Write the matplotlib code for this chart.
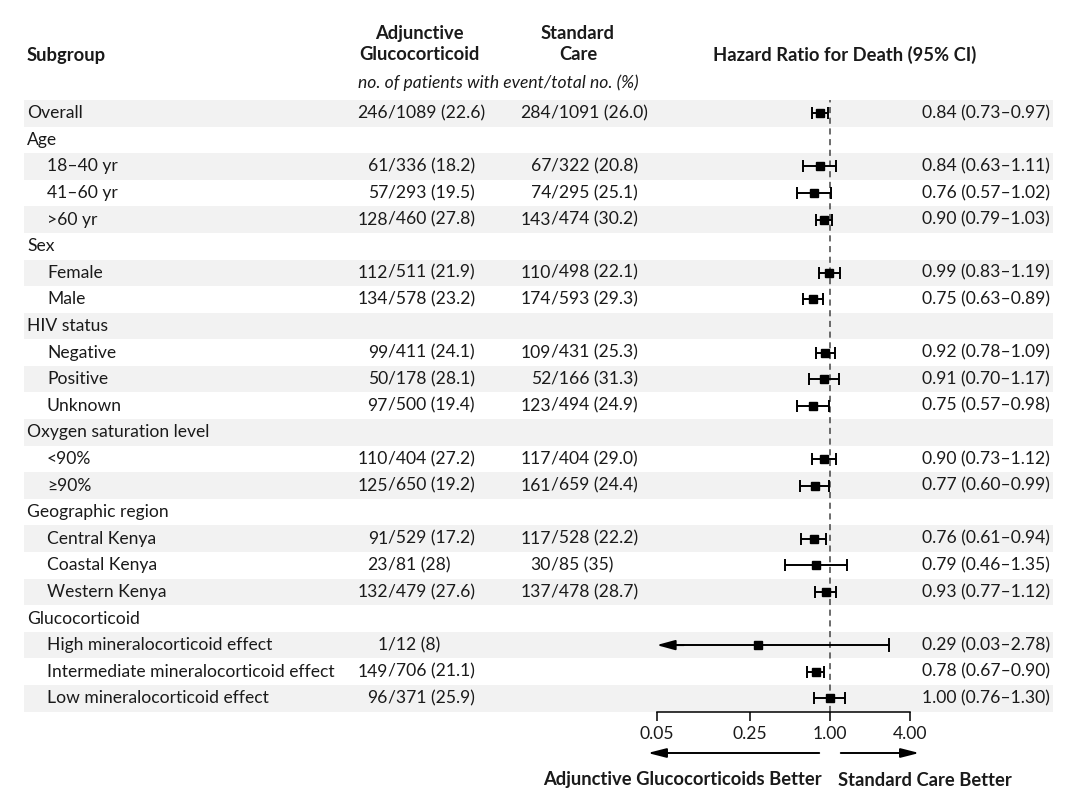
import matplotlib
matplotlib.use("Agg")
import matplotlib.pyplot as plt

plt.rcParams['font.family'] = ['Lato', 'DejaVu Sans']

# rows of the table
labels = ["Overall", "Age", "18\u201340 yr", "41\u201360 yr", ">60 yr", "Sex", "Female", "Male",
          "HIV status", "Negative", "Positive", "Unknown", "Oxygen saturation level", "<90%",
          "\u226590%", "Geographic region", "Central Kenya", "Coastal Kenya", "Western Kenya",
          "Glucocorticoid", "High mineralocorticoid effect",
          "Intermediate mineralocorticoid effect", "Low mineralocorticoid effect"]
indent = [0, 0, 1, 1, 1, 0, 1, 1, 0, 1, 1, 1, 0, 1, 1, 0, 1, 1, 1, 0, 1, 1, 1]
adj = ["246/1089 (22.6)", "", "61/336 (18.2)", "57/293 (19.5)", "128/460 (27.8)", "",
       "112/511 (21.9)", "134/578 (23.2)", "", "99/411 (24.1)", "50/178 (28.1)", "97/500 (19.4)",
       "", "110/404 (27.2)", "125/650 (19.2)", "", "91/529 (17.2)", "23/81 (28)",
       "132/479 (27.6)", "", "1/12 (8)", "149/706 (21.1)", "96/371 (25.9)"]
std = ["284/1091 (26.0)", "", "67/322 (20.8)", "74/295 (25.1)", "143/474 (30.2)", "",
       "110/498 (22.1)", "174/593 (29.3)", "", "109/431 (25.3)", "52/166 (31.3)", "123/494 (24.9)",
       "", "117/404 (29.0)", "161/659 (24.4)", "", "117/528 (22.2)", "30/85 (35)",
       "137/478 (28.7)", "", "", "", ""]
hr = [0.84, None, 0.84, 0.76, 0.90, None, 0.99, 0.75, None, 0.92, 0.91, 0.75, None, 0.90, 0.77,
      None, 0.76, 0.79, 0.93, None, 0.29, 0.78, 1.00]
lo = [0.73, None, 0.63, 0.57, 0.79, None, 0.83, 0.63, None, 0.78, 0.70, 0.57, None, 0.73, 0.60,
      None, 0.61, 0.46, 0.77, None, 0.03, 0.67, 0.76]
hi = [0.97, None, 1.11, 1.02, 1.03, None, 1.19, 0.89, None, 1.09, 1.17, 0.98, None, 1.12, 0.99,
      None, 0.94, 1.35, 1.12, None, 2.78, 0.90, 1.30]
ticks = [0.05, 0.25, 1.00, 4.00]
tick_labels = ["0.05", "0.25", "1.00", "4.00"]

W, H = 1080, 811
n = len(labels)
top_px, row_px = 100, 26.59
bot_px = top_px + n * row_px
fs = 12.6
fsb = 13.2
tc = "#1a1a1a"

fig = plt.figure(figsize=(W / 100, H / 100), dpi=100)
bottom = 1 - bot_px / H
height = n * row_px / H

bg = fig.add_axes([0, bottom, 1, height])
bg.set_xlim(0, W)
bg.set_ylim(n - 0.5, -0.5)
bg.axis("off")

ax = fig.add_axes([656.7 / W, bottom, 253.3 / W, height])
ax.set_xscale("log")
ax.set_xlim(0.05, 4)
ax.set_ylim(n - 0.5, -0.5)
ax.patch.set_alpha(0)
for s in ["top", "left", "right"]:
    ax.spines[s].set_visible(False)
ax.spines["bottom"].set_linewidth(1.1)
ax.set_yticks([])
ax.set_xticks(ticks)
ax.set_xticklabels(tick_labels, fontsize=fs, color=tc)
ax.minorticks_off()
ax.tick_params(axis="x", direction="out", length=6.5, width=1.1, pad=4)

def fx(px):
    return px / W

def fy(px):
    return 1 - px / H

for i in range(n):
    if i % 2 == 0:
        bg.axhspan(i - 0.5, i + 0.5, xmin=24 / W, xmax=1053 / W, color="#f2f2f2", lw=0, zorder=0)
    x0 = 27 if indent[i] == 0 else 47
    bg.text(x0, i, labels[i], fontsize=fs, va="center", ha="left", color=tc)
    # number columns aligned on the slash
    for s, sx in [(adj[i], 388), (std[i], 551)]:
        if s:
            a, b = s.split("/", 1)
            bg.text(sx, i, a, fontsize=fs, va="center", ha="right", color=tc)
            bg.text(sx, i, "/" + b, fontsize=fs, va="center", ha="left", color=tc)
    if hr[i] is not None:
        bg.text(1050, i, f"{hr[i]:.2f} ({lo[i]:.2f}\u2013{hi[i]:.2f})", fontsize=fs,
                va="center", ha="right", color=tc)
        if lo[i] < 0.05:
            ax.plot([0.06, hi[i]], [i, i], color="black", lw=1.4, zorder=3)
            ax.plot([hi[i], hi[i]], [i - 0.22, i + 0.22], color="black", lw=1.4, zorder=3)
            ax.annotate("", xy=(0.05, i), xytext=(0.08, i),
                        arrowprops=dict(arrowstyle="-|>,head_length=1.1,head_width=0.3",
                                        color="black", lw=1.4, shrinkA=0, shrinkB=0),
                        annotation_clip=False, zorder=3)
            ax.plot(hr[i], i, "s", color="black", ms=6, zorder=4)
        else:
            ax.errorbar(hr[i], i, xerr=[[hr[i] - lo[i]], [hi[i] - hr[i]]], fmt="s",
                        color="black", ms=6, lw=1.4, capsize=4.3, capthick=1.4, zorder=3)

ax.axvline(1.0, color="#444444", lw=1.1, ls=(0, (4, 3)), zorder=2)

# headers
fig.text(fx(27), fy(55), "Subgroup", fontsize=fsb, fontweight="bold", ha="left", va="center", color=tc)
fig.text(fx(419), fy(44), "Adjunctive\nGlucocorticoid", fontsize=fsb, fontweight="bold",
         ha="center", va="center", linespacing=1.3, color=tc)
fig.text(fx(578), fy(44), "Standard\nCare", fontsize=fsb, fontweight="bold",
         ha="center", va="center", linespacing=1.3, color=tc)
fig.text(fx(845), fy(55), "Hazard Ratio for Death (95% CI)", fontsize=fsb, fontweight="bold",
         ha="center", va="center", color=tc)
fig.text(fx(358), fy(83), "no. of patients with event/total no. (%)", fontsize=fs,
         style="italic", ha="left", va="center", color=tc)

# direction arrows
for start, end in [(822, 645), (838, 922)]:
    fig.add_artist(matplotlib.patches.FancyArrowPatch((fx(start), fy(753)), (fx(end), fy(753)),
                   transform=fig.transFigure, arrowstyle="-|>,head_length=11,head_width=2.8",
                   color="black", lw=1.4, mutation_scale=1))
fig.text(fx(822), fy(780), "Adjunctive Glucocorticoids Better", fontsize=fsb, fontweight="bold",
         ha="right", va="center", color=tc)
fig.text(fx(838), fy(780), "Standard Care Better", fontsize=fsb, fontweight="bold",
         ha="left", va="center", color=tc)

fig.savefig("out.png", dpi=100)
